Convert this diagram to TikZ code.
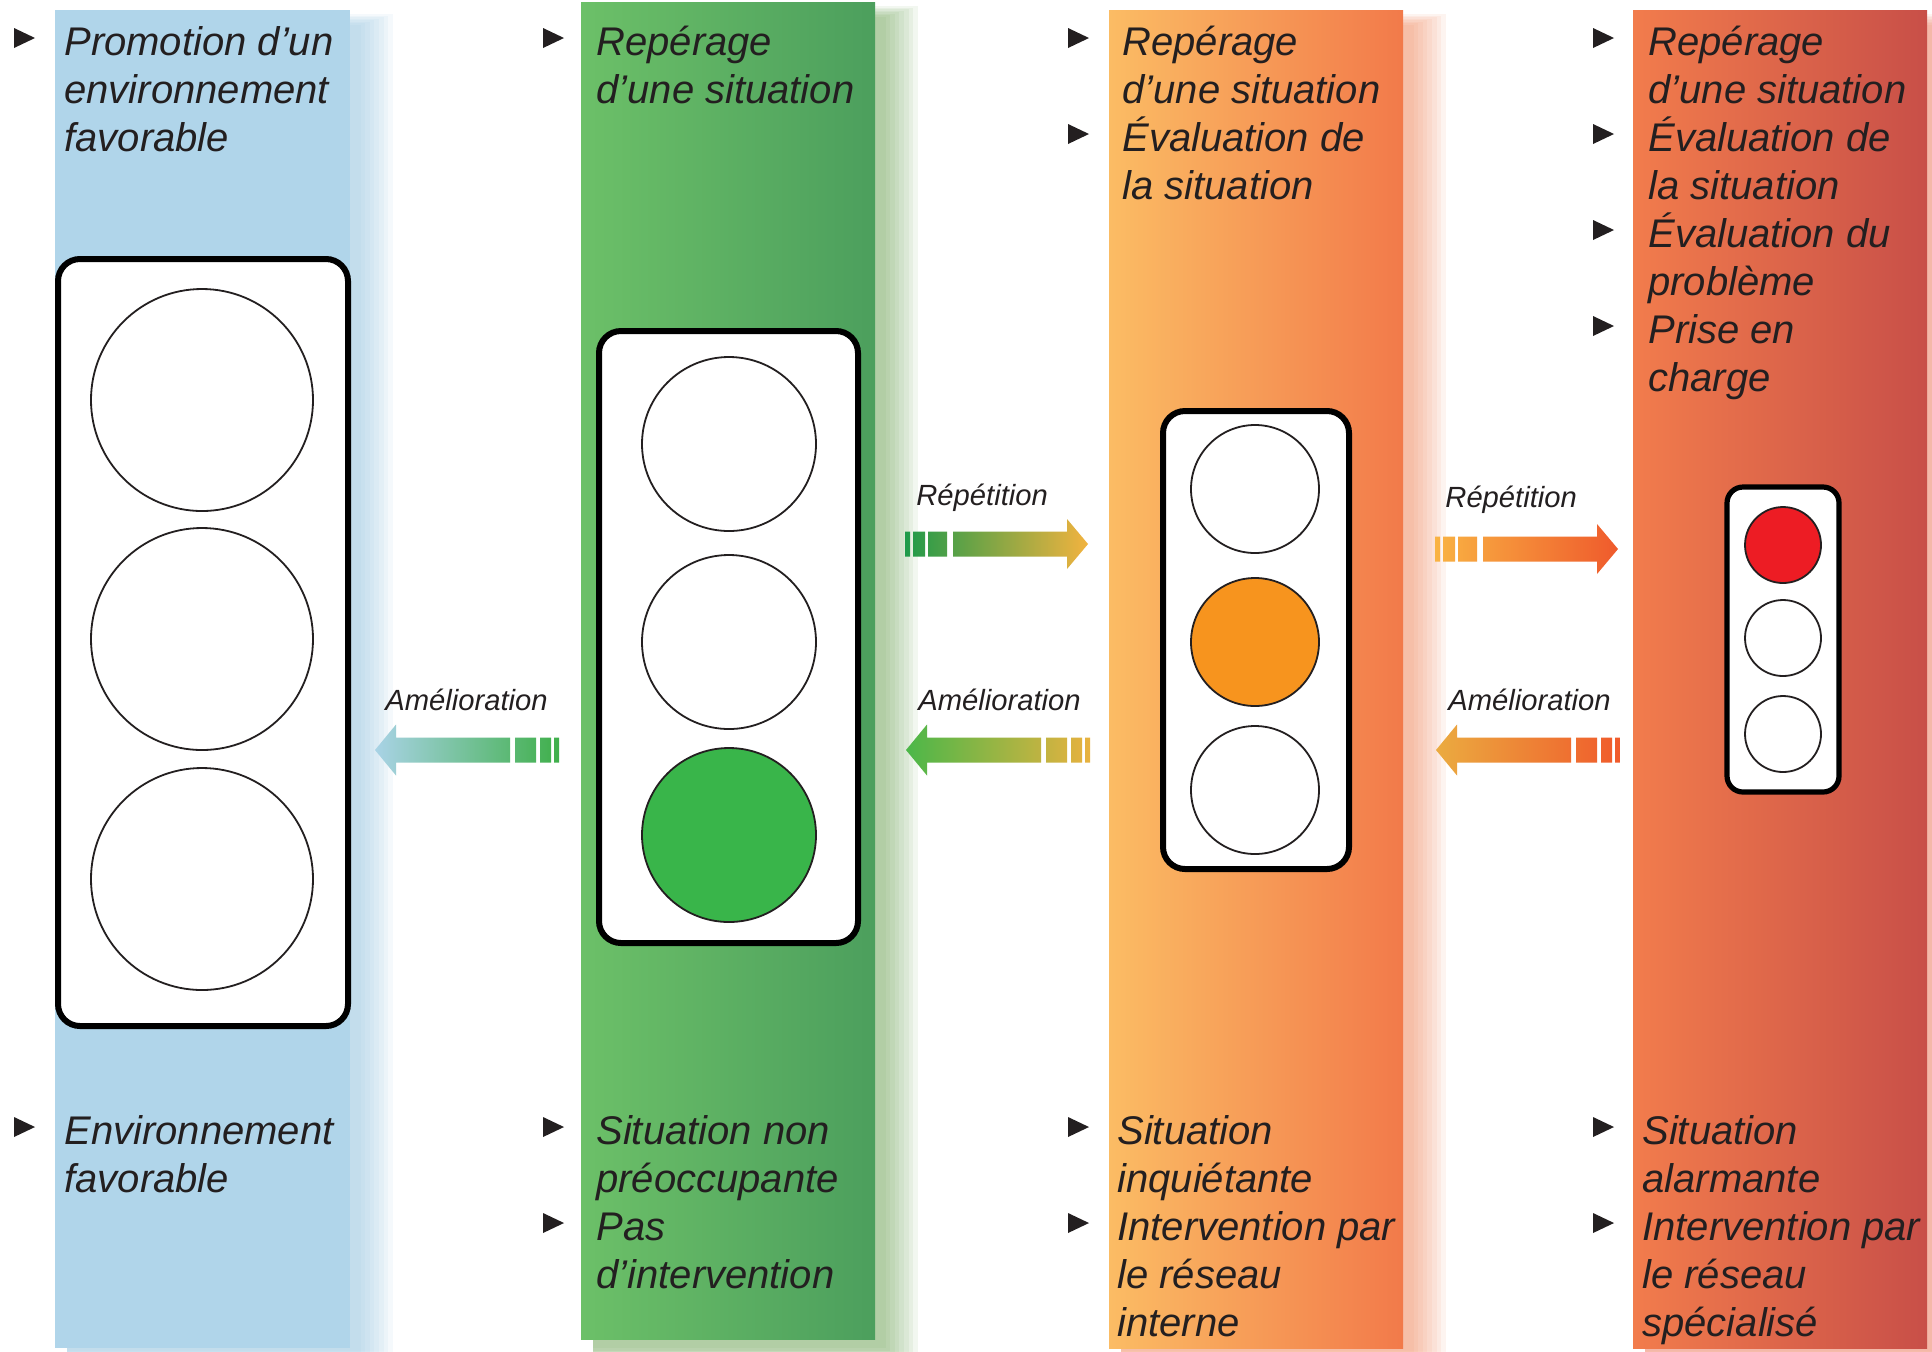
\documentclass[tikz,border=0pt]{standalone}
\usepackage{fontspec}
\setmainfont{Liberation Sans}
\definecolor{txt}{HTML}{231F20}
\definecolor{bluecol}{HTML}{B0D5EA}
\definecolor{blueshad}{HTML}{8FC3E0}
\definecolor{greenL}{HTML}{6CC068}
\definecolor{greenR}{HTML}{4C9F5D}
\definecolor{greenshad}{HTML}{6FA457}
\definecolor{orangeL}{HTML}{FBBC64}
\definecolor{orangeR}{HTML}{F27A4A}
\definecolor{orangeshad}{HTML}{F28A5C}
\definecolor{redL}{HTML}{F27C4C}
\definecolor{redR}{HTML}{C84F48}
\definecolor{redshad}{HTML}{EE7A5A}
\definecolor{lampgreen}{HTML}{39B54A}
\definecolor{lamporange}{HTML}{F7941E}
\definecolor{lampred}{HTML}{ED1C24}
\definecolor{aAl}{HTML}{A9D3E6}\definecolor{aAr}{HTML}{3FAF4A}
\definecolor{aBl}{HTML}{4BB749}\definecolor{aBr}{HTML}{E9B23F}
\definecolor{aCl}{HTML}{EBAB40}\definecolor{aCr}{HTML}{F05A2B}
\definecolor{rAl}{HTML}{1E9A4A}\definecolor{rAr}{HTML}{F2B33F}
\definecolor{rBl}{HTML}{F9B343}\definecolor{rBr}{HTML}{EF5A2C}

\tikzset{
 mt/.style={anchor=base west, inner sep=0pt, text=txt, font=\fontsize{20}{24}\selectfont\itshape},
 lbl/.style={anchor=base west, inner sep=0pt, text=txt, font=\fontsize{14.6}{16}\selectfont\itshape},
 lightbox/.style={draw=black, line width=3pt, fill=white, rounded corners=11pt, inner sep=0pt, rectangle},
 lamp/.style={circle, draw=txt, line width=0.9pt, fill=white, inner sep=0pt},
}

\newcommand\txl[4]{\node[mt] (#1) at (#2,#3) {#4};}
\newcommand\bul[3]{\coordinate (#1) at (#2,{#3-17});
  \fill[txt] (#2,{#3-27}) -- ({#2+21},{#3-17}) -- (#2,{#3-7}) -- cycle;}
\newcommand\shad[5]{\foreach \k in {1,...,8}{%
  \fill[#5, opacity=0.085] ({#1+12},{#2+16-\k*1.5}) rectangle ({#3+6+\k*4.6},{#4+6+\k*3});}}
\newcommand\rarr[5]{\coordinate (#1) at (#2,#3);
  \path[left color=#4, right color=#5]
   (#2,{#3-12.5}) rectangle ({#2+5},{#3+12.5})
   ({#2+8},{#3-12.5}) rectangle ({#2+20},{#3+12.5})
   ({#2+23},{#3-12.5}) rectangle ({#2+42},{#3+12.5})
   ({#2+48},{#3-12.5}) -- ({#2+162},{#3-12.5}) -- ({#2+162},{#3-25}) -- ({#2+183},#3)
   -- ({#2+162},{#3+25}) -- ({#2+162},{#3+12.5}) -- ({#2+48},{#3+12.5}) -- cycle;}
\newcommand\larr[5]{\coordinate (#1) at (#2,#3);
  \path[left color=#4, right color=#5]
   (#2,#3) -- ({#2+21},{#3-25.5}) -- ({#2+21},{#3-12.5}) -- ({#2+135},{#3-12.5})
   -- ({#2+135},{#3+12.5}) -- ({#2+21},{#3+12.5}) -- ({#2+21},{#3+25.5}) -- cycle
   ({#2+140},{#3-12.5}) rectangle ({#2+161},{#3+12.5})
   ({#2+165},{#3-12.5}) rectangle ({#2+176},{#3+12.5})
   ({#2+179},{#3-12.5}) rectangle ({#2+184},{#3+12.5});}

\begin{document}
\begin{tikzpicture}[x=0.5pt, y=-0.5pt]
\useasboundingbox (0,0) rectangle (1932,1351);
\clip (0,0) rectangle (1932,1351);
\fill[white] (0,0) rectangle (1932,1351);

% shadows
\shad{55}{10}{350}{1348}{blueshad}
\shad{581}{2}{875}{1339}{greenshad}
\shad{1109}{10}{1403}{1348}{orangeshad}
\shad{1633}{10}{1927}{1348}{redshad}

% columns
\fill[bluecol] (55,10) rectangle (350,1348);
\path[left color=greenL, right color=greenR] (581,2) rectangle (875,1339);
\path[left color=orangeL, right color=orangeR] (1109,10) rectangle (1403,1348);
\path[left color=redL, right color=redR] (1633,10) rectangle (1927,1348);

% traffic lights
\node[lightbox, minimum width=145pt, minimum height=383.5pt] (box1) at (203,642.5) {};
\node[lamp, minimum size=111pt] (b1a) at (202,400) {};
\node[lamp, minimum size=111pt] (b1b) at (202,639) {};
\node[lamp, minimum size=111pt] (b1c) at (202,879) {};

\node[lightbox, minimum width=129.5pt, minimum height=306pt] (box2) at (728.5,637) {};
\node[lamp, minimum size=87pt] (b2a) at (729,444) {};
\node[lamp, minimum size=87pt] (b2b) at (729,642) {};
\node[lamp, minimum size=87pt, fill=lampgreen] (b2c) at (729,835) {};

\node[lightbox, minimum width=93pt, minimum height=229pt] (box3) at (1256,640) {};
\node[lamp, minimum size=64pt] (b3a) at (1255,489) {};
\node[lamp, minimum size=64pt, fill=lamporange] (b3b) at (1255,642) {};
\node[lamp, minimum size=64pt] (b3c) at (1255,790) {};

\node[lightbox, line width=2.6pt, rounded corners=8pt, minimum width=56pt, minimum height=152.5pt] (box4) at (1783,639.5) {};
\node[lamp, minimum size=38pt, fill=lampred] (b4a) at (1783,545) {};
\node[lamp, minimum size=38pt] (b4b) at (1783,638) {};
\node[lamp, minimum size=38pt] (b4c) at (1783,734) {};

% arrows
\larr{am1}{375}{750}{aAl}{aAr}
\larr{am2}{906}{750}{aBl}{aBr}
\larr{am3}{1436}{750}{aCl}{aCr}
\rarr{rp1}{905}{544}{rAl}{rAr}
\rarr{rp2}{1435}{549}{rBl}{rBr}
\node[lbl] (lam1) at (385,710) {Amélioration};
\node[lbl] (lam2) at (918,710) {Amélioration};
\node[lbl] (lam3) at (1448,710) {Amélioration};
\node[lbl] (lrp1) at (916,505) {Répétition};
\node[lbl] (lrp2) at (1445,507) {Répétition};

% column 1 texts
\bul{u1a}{14}{55}
\txl{c1a}{64}{55}{Promotion d’un}
\txl{c1b}{64}{103}{environnement}
\txl{c1c}{64}{151}{favorable}
\bul{u1b}{14}{1144}
\txl{c1d}{64}{1144}{Environnement}
\txl{c1e}{64}{1192}{favorable}

% column 2 texts
\bul{u2a}{543}{55}
\txl{c2a}{596}{55}{Repérage}
\txl{c2b}{596}{103}{d’une situation}
\bul{u2b}{543}{1144}
\txl{c2c}{596}{1144}{Situation non}
\txl{c2d}{596}{1192}{préoccupante}
\bul{u2c}{543}{1240}
\txl{c2e}{596}{1240}{Pas}
\txl{c2f}{596}{1288}{d’intervention}

% column 3 texts
\bul{u3a}{1068}{55}
\txl{c3a}{1122}{55}{Repérage}
\txl{c3b}{1122}{103}{d’une situation}
\bul{u3b}{1068}{151}
\txl{c3c}{1122}{151}{Évaluation de}
\txl{c3d}{1122}{199}{la situation}
\bul{u3c}{1068}{1144}
\txl{c3e}{1117}{1144}{Situation}
\txl{c3f}{1117}{1192}{inquiétante}
\bul{u3d}{1068}{1240}
\txl{c3g}{1117}{1240}{Intervention par}
\txl{c3h}{1117}{1288}{le réseau}
\txl{c3i}{1117}{1336}{interne}

% column 4 texts
\bul{u4a}{1593}{55}
\txl{c4a}{1648}{55}{Repérage}
\txl{c4b}{1648}{103}{d’une situation}
\bul{u4b}{1593}{151}
\txl{c4c}{1648}{151}{Évaluation de}
\txl{c4d}{1648}{199}{la situation}
\bul{u4c}{1593}{247}
\txl{c4e}{1648}{247}{Évaluation du}
\txl{c4f}{1648}{295}{problème}
\bul{u4d}{1593}{343}
\txl{c4g}{1648}{343}{Prise en}
\txl{c4h}{1648}{391}{charge}
\bul{u4e}{1593}{1144}
\txl{c4i}{1642}{1144}{Situation}
\txl{c4j}{1642}{1192}{alarmante}
\bul{u4f}{1593}{1240}
\txl{c4k}{1642}{1240}{Intervention par}
\txl{c4l}{1642}{1288}{le réseau}
\txl{c4m}{1642}{1336}{spécialisé}
\end{tikzpicture}
\end{document}
